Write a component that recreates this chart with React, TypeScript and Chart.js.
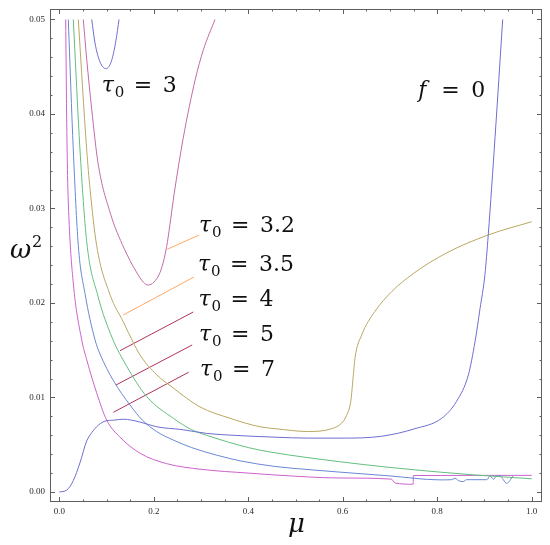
import React, { useEffect, useRef } from "react";
import { Chart, registerables } from "chart.js";

Chart.register(...registerables);

// ---------- data ----------
const xMajorTicks = [0, 0.2, 0.4, 0.6, 0.8, 1.0];
const xTickLabels = ["0.0", "0.2", "0.4", "0.6", "0.8", "1.0"];
const yMajorTicks = [0, 0.01, 0.02, 0.03, 0.04, 0.05];
const yTickLabels = ["0.00", "0.01", "0.02", "0.03", "0.04", "0.05"];

// f = 0 curve (main branch)
const f0X = [0, 0.0157, 0.0296, 0.0438, 0.058, 0.069, 0.079, 0.0967, 0.115, 0.1355, 0.171, 0.206, 0.26, 0.312, 0.368, 0.4566, 0.527, 0.598, 0.6825, 0.753, 0.8095, 0.841, 0.866, 0.88, 0.8906, 0.901, 0.908, 0.9225, 0.9386];
const f0Y = [0, 0.0002, 0.0012, 0.0031, 0.0054, 0.0063, 0.0069, 0.0075, 0.0076, 0.0077, 0.0074, 0.0069, 0.0066, 0.0062, 0.006, 0.0058, 0.0057, 0.0057, 0.0059, 0.0067, 0.0078, 0.0096, 0.0124, 0.0159, 0.0194, 0.023, 0.0272, 0.0376, 0.05];
// f = 0 curve (small branch at the top)
const f0TopX = [0.0686, 0.0756, 0.0862, 0.0989, 0.111, 0.12, 0.1264];
const f0TopY = [0.05, 0.0475, 0.0455, 0.0448, 0.0457, 0.0478, 0.05];
// tau0 = 3.2
const t32X = [0.0508, 0.058, 0.0686, 0.082, 0.108, 0.137, 0.163, 0.178, 0.188, 0.2, 0.213, 0.222, 0.229, 0.243, 0.2625, 0.288, 0.305, 0.3296];
const t32Y = [0.05, 0.0458, 0.0405, 0.0348, 0.0295, 0.0258, 0.0233, 0.0222, 0.0219, 0.0222, 0.0232, 0.0247, 0.0265, 0.0315, 0.0375, 0.0437, 0.0468, 0.05];
// tau0 = 3.5
const t35X = [0.0402, 0.058, 0.065, 0.079, 0.108, 0.1355, 0.146, 0.1708, 0.2062, 0.2413, 0.2978, 0.3613, 0.4249, 0.4566, 0.527, 0.5766, 0.598, 0.608, 0.617, 0.6225, 0.626, 0.64, 0.668, 0.7036, 0.749, 0.82, 0.908, 1.0];
const t35Y = [0.05, 0.0362, 0.0321, 0.0261, 0.0208, 0.018, 0.0169, 0.0145, 0.0124, 0.011, 0.009, 0.0078, 0.0069, 0.0067, 0.0064, 0.0067, 0.0073, 0.0081, 0.0096, 0.0124, 0.0142, 0.0166, 0.0191, 0.0212, 0.0231, 0.0253, 0.0272, 0.0286];
// tau0 = 4
const t4X = [0.0296, 0.0438, 0.058, 0.082, 0.112, 0.1427, 0.185, 0.2413, 0.28, 0.312, 0.4, 0.45, 0.594, 0.7, 0.806, 0.88, 1.0];
const t4Y = [0.05, 0.0362, 0.0265, 0.0207, 0.0163, 0.0133, 0.0101, 0.0078, 0.0066, 0.006, 0.0047, 0.0042, 0.0032, 0.0026, 0.0021, 0.0018, 0.0014];
// tau0 = 5
const t5X = [0.019, 0.0296, 0.0402, 0.0544, 0.0756, 0.0862, 0.1143, 0.1497, 0.176, 0.206, 0.241, 0.28, 0.333, 0.3825, 0.4566, 0.52, 0.594, 0.7, 0.806, 0.83, 0.838, 0.845, 0.855, 0.862, 0.905, 0.912, 0.919, 0.926, 0.933, 0.947, 0.961];
const t5Y = [0.05, 0.0362, 0.0261, 0.021, 0.0161, 0.0146, 0.0118, 0.0092, 0.0076, 0.0064, 0.0055, 0.0047, 0.0039, 0.0033, 0.0027, 0.0024, 0.0021, 0.0017, 0.00128, 0.0013, 0.00145, 0.0012, 0.0011, 0.0013, 0.0013, 0.0017, 0.00134, 0.0017, 0.00169, 0.00092, 0.00172];
// tau0 = 7
const t7X = [0.0135, 0.0155, 0.0175, 0.0205, 0.0296, 0.0474, 0.058, 0.079, 0.1003, 0.1285, 0.171, 0.227, 0.3, 0.4, 0.4566, 0.594, 0.703, 0.711, 0.749, 0.7495, 1.0];
const t7Y = [0.05, 0.04, 0.0335, 0.0288, 0.0221, 0.0161, 0.014, 0.0105, 0.0076, 0.0058, 0.0041, 0.003, 0.0024, 0.002, 0.0018, 0.00148, 0.00136, 0.00095, 0.00082, 0.00174, 0.00176];

// leader lines (start on curve, end at label)
const leaderX = [[0.2286, 0.2964], [0.1355, 0.2851], [0.1285, 0.2837], [0.12, 0.2813], [0.1143, 0.2741]];
const leaderY = [[0.02568, 0.0272], [0.01873, 0.02275], [0.01495, 0.01905], [0.01132, 0.01556], [0.00843, 0.01268]];

const tauValues = ["3", "3.2", "3.5", "4", "5", "7"];
const fLabelValue = "0";

// ---------- styling / layout ----------
const X_MIN = -0.0197;
const X_MAX = 1.0218;
const Y_MIN = -0.00106;
const Y_MAX = 0.05111;

const curveColors = ["#6e6ed2", "#6e6ed2", "#c46aa6", "#b8a862", "#62bf7e", "#6a88d2", "#cc62cc"];
const leaderColors = ["#ffa866", "#ffa866", "#b03456", "#b03456", "#b03456"];
const tauPos = [
  { x: 0.0898, y: 0.0423 },
  { x: 0.2957, y: 0.02751 },
  { x: 0.2936, y: 0.02339 },
  { x: 0.2947, y: 0.01963 },
  { x: 0.2957, y: 0.01598 },
  { x: 0.2978, y: 0.01228 },
];
const fPos = { x: 0.76, y: 0.04185 };

const zip = (xs: number[], ys: number[]) => xs.map((x, i) => ({ x, y: ys[i] }));

const framePlugin = {
  id: "mmaFrame",
  afterDatasetsDraw(chart: any) {
    const { ctx, chartArea, scales } = chart;
    const { left, right, top, bottom } = chartArea;
    const xs = scales.x;
    const ys = scales.y;
    ctx.save();
    // frame
    ctx.strokeStyle = "#5e5e5e";
    ctx.lineWidth = 1;
    ctx.strokeRect(Math.round(left) + 0.5, Math.round(top) + 0.5, Math.round(right - left) - 1, Math.round(bottom - top) - 1);
    // ticks
    ctx.beginPath();
    for (let i = 0; i <= 20; i++) {
      const v = i * 0.05;
      const major = i % 4 === 0;
      const len = major ? 5 : 2.5;
      const px = Math.round(xs.getPixelForValue(v)) + 0.5;
      ctx.moveTo(px, bottom);
      ctx.lineTo(px, bottom - len);
      ctx.moveTo(px, top);
      ctx.lineTo(px, top + len);
    }
    for (let i = 0; i <= 25; i++) {
      const v = i * 0.002;
      const major = i % 5 === 0;
      const len = major ? 5 : 2.5;
      const py = Math.round(ys.getPixelForValue(v)) + 0.5;
      ctx.moveTo(left, py);
      ctx.lineTo(left + len, py);
      ctx.moveTo(right, py);
      ctx.lineTo(right - len, py);
    }
    ctx.stroke();

    // tick labels
    ctx.fillStyle = "#2a2a2a";
    ctx.font = '9px "Liberation Serif", serif';
    ctx.textBaseline = "middle";
    ctx.textAlign = "center";
    xMajorTicks.forEach((v, i) => {
      ctx.fillText(xTickLabels[i], xs.getPixelForValue(v), bottom + 9.5);
    });
    ctx.textAlign = "right";
    yMajorTicks.forEach((v, i) => {
      ctx.fillText(yTickLabels[i], left - 5, ys.getPixelForValue(v));
    });

    // axis titles
    ctx.fillStyle = "#111";
    ctx.textAlign = "left";
    ctx.textBaseline = "alphabetic";
    ctx.font = 'italic 26px "DejaVu Serif", serif';
    ctx.fillText("ω", 10, 258);
    ctx.font = '16px "DejaVu Serif", serif';
    ctx.fillText("2", 32, 247);
    ctx.font = 'italic 26px "DejaVu Serif", serif';
    ctx.fillText("μ", 288, 532);

    // annotations
    const drawTau = (x0: number, base: number, val: string) => {
      ctx.font = 'italic 22px "DejaVu Serif", serif';
      ctx.fillText("τ", x0, base);
      ctx.font = '15px "DejaVu Serif", serif';
      ctx.fillText("0", x0 + 13, base + 5);
      ctx.font = '22px "DejaVu Serif", serif';
      ctx.fillText("=", x0 + 32, base);
      ctx.fillText(val, x0 + 61, base);
    };
    tauValues.forEach((val, i) => {
      const p = tauPos[i];
      drawTau(xs.getPixelForValue(p.x), ys.getPixelForValue(p.y), val);
    });
    const fx = xs.getPixelForValue(fPos.x);
    const fy = ys.getPixelForValue(fPos.y);
    ctx.font = 'italic 22px "DejaVu Serif", serif';
    ctx.fillText("f", fx, fy);
    ctx.font = '22px "DejaVu Serif", serif';
    ctx.fillText("=", fx + 23, fy);
    ctx.fillText(fLabelValue, fx + 53, fy);
    ctx.restore();
  },
};

export default function App() {
  const canvasRef = useRef<HTMLCanvasElement | null>(null);

  useEffect(() => {
    if (!canvasRef.current) return;
    const curveSets = [
      zip(f0X, f0Y),
      zip(f0TopX, f0TopY),
      zip(t32X, t32Y),
      zip(t35X, t35Y),
      zip(t4X, t4Y),
      zip(t5X, t5Y),
      zip(t7X, t7Y),
    ];
    const datasets: any[] = curveSets.map((d, i) => ({
      data: d,
      borderColor: curveColors[i],
      borderWidth: 1,
      showLine: true,
      pointRadius: 0,
      cubicInterpolationMode: "monotone",
      fill: false,
    }));
    leaderX.forEach((lx, i) => {
      datasets.push({
        data: zip(lx, leaderY[i]),
        borderColor: leaderColors[i],
        borderWidth: 1,
        showLine: true,
        pointRadius: 0,
        fill: false,
      });
    });

    const chart = new Chart(canvasRef.current, {
      type: "scatter",
      data: { datasets },
      options: {
        responsive: false,
        animation: false,
        devicePixelRatio: 1,
        layout: { padding: { left: 50, top: 9, right: 8, bottom: 43 } },
        plugins: { legend: { display: false }, tooltip: { enabled: false } },
        scales: {
          x: { type: "linear", min: X_MIN, max: X_MAX, display: false },
          y: { type: "linear", min: Y_MIN, max: Y_MAX, display: false },
        },
      },
      plugins: [framePlugin],
    } as any);
    return () => chart.destroy();
  }, []);

  return (
    <div style={{ position: "absolute", left: 0, top: 0, width: 550, height: 545, background: "#fff" }}>
      <canvas ref={canvasRef} width={550} height={545} style={{ display: "block" }} />
    </div>
  );
}
